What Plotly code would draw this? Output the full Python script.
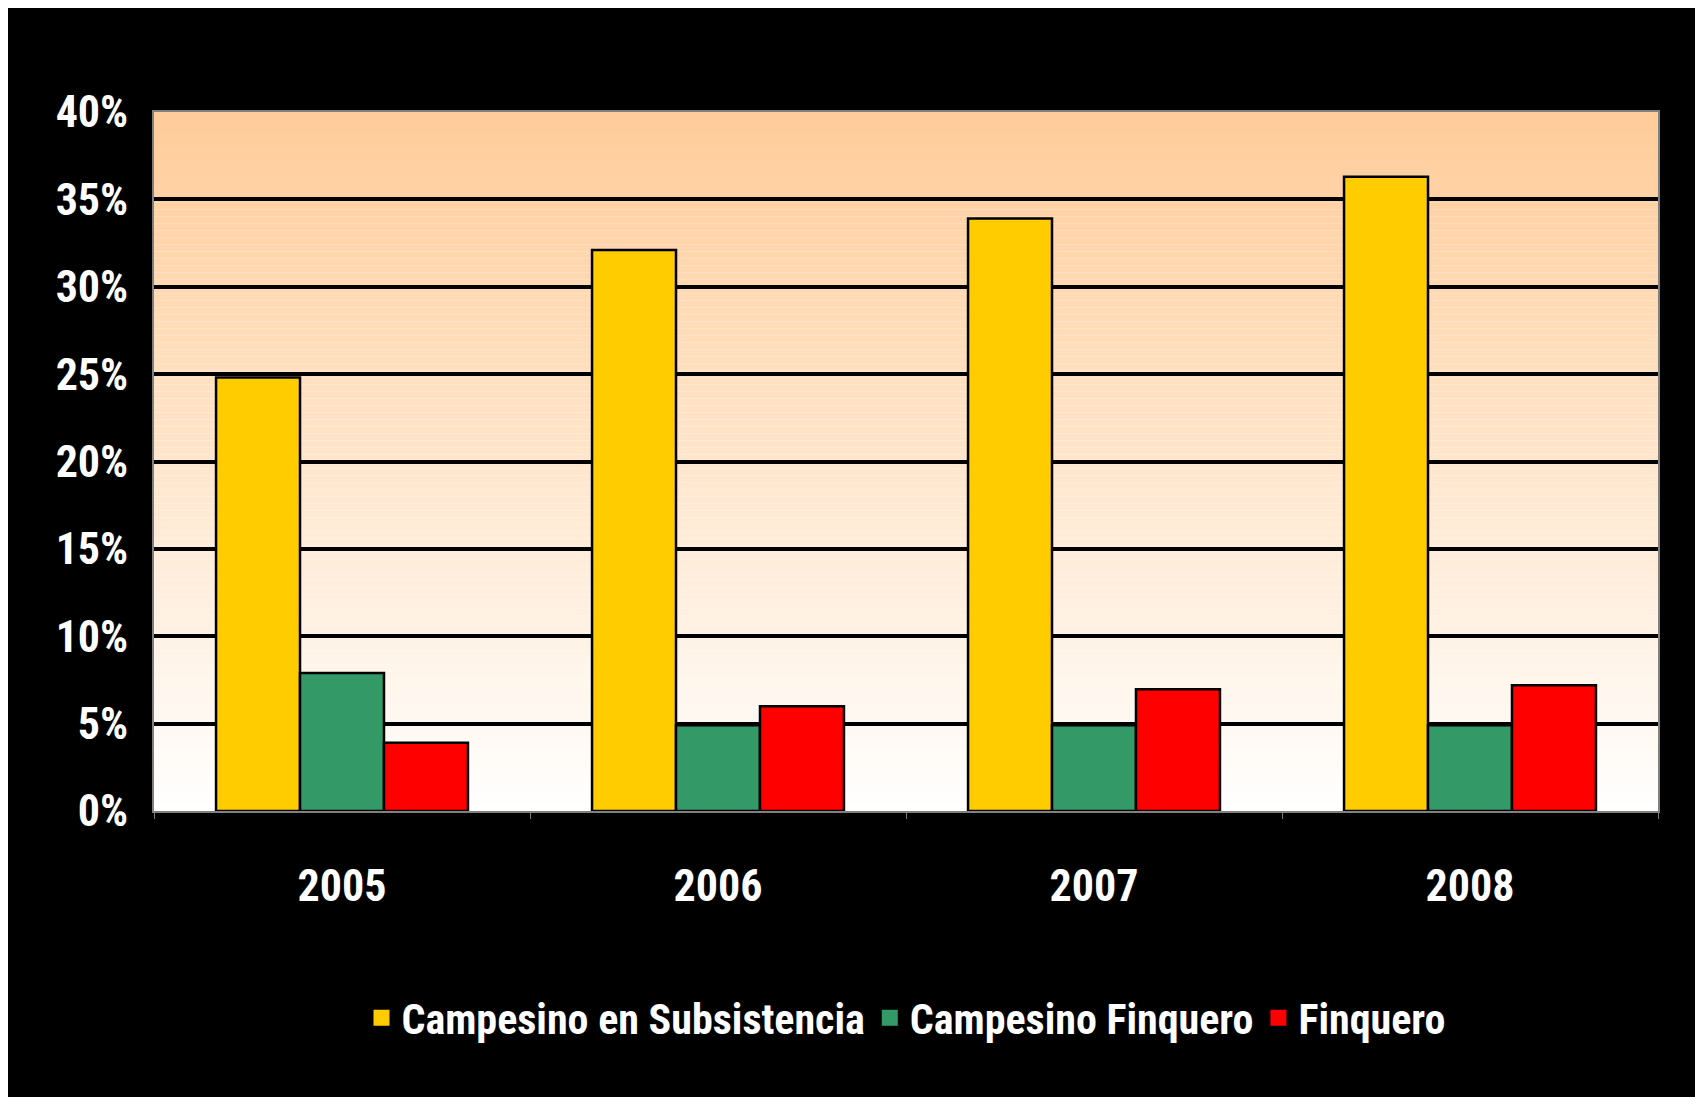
import plotly.graph_objects as go

years = ["2005", "2006", "2007", "2008"]
series_names = ["Campesino en Subsistencia", "Campesino Finquero", "Finquero"]
subsistencia = [24.8, 32.1, 33.9, 36.3]
campesino_finquero = [7.9, 4.9, 4.9, 4.9]
finquero = [3.9, 6.0, 6.96, 7.2]
series_values = [subsistencia, campesino_finquero, finquero]
series_colors = ["#FFCC00", "#339966", "#FF0000"]
y_ticks = [0, 5, 10, 15, 20, 25, 30, 35, 40]
y_tick_text = [f"{v}%" for v in y_ticks]

FONT = "Roboto Condensed, Roboto, sans-serif"

# figure sits at (8, 8) inside the page (default body margin)
W, H = 1692, 1089
ML, MR, MT, MB = 146, 42, 104, 286
PW, PH = W - ML - MR, H - MT - MB

fig = go.Figure()
for name, vals, col in zip(series_names, series_values, series_colors):
    fig.add_trace(go.Bar(
        x=years, y=vals, name=name, showlegend=False,
        marker=dict(color=col, line=dict(color="black", width=2.5)),
    ))
for name, col in zip(series_names, series_colors):
    fig.add_trace(go.Scatter(
        x=[None], y=[None], mode="markers", name=name,
        marker=dict(symbol="square", size=18, color=col),
    ))

# vertical gradient background (white at bottom -> peach at top)
shapes = []
n = 100
top = (255, 204, 153)
for i in range(n):
    t = (i + 0.5) / n
    r = round(255 + (top[0] - 255) * t)
    g = round(255 + (top[1] - 255) * t)
    b = round(255 + (top[2] - 255) * t)
    shapes.append(dict(type="rect", xref="paper", yref="paper",
                       x0=0, x1=1, y0=i / n, y1=(i + 1) / n,
                       fillcolor=f"rgb({r},{g},{b})", line=dict(width=0),
                       layer="below"))

fig.update_layout(
    width=W, height=H,
    margin=dict(l=ML, r=MR, t=MT, b=MB, pad=0),
    paper_bgcolor="black",
    plot_bgcolor="white",
    barmode="group",
    bargap=0.33,
    bargroupgap=0,
    shapes=shapes,
    font=dict(family=FONT, size=44, color="white", weight="bold"),
    legend=dict(orientation="h", x=0.5, xanchor="center",
                y=(811 - 1018) / PH, yanchor="middle",
                font=dict(family=FONT, size=42, color="white", weight="bold"),
                bgcolor="rgba(0,0,0,0)", itemwidth=30, tracegroupgap=0),
    xaxis=dict(
        type="category",
        showgrid=False,
        showline=True, linecolor="#808080", linewidth=2, mirror=True,
        ticks="outside", tickson="boundaries", ticklen=6, tickcolor="#808080",
        tickwidth=1,
        ticklabelstandoff=35,
        tickfont=dict(family=FONT, size=44, color="white", weight="bold"),
    ),
    yaxis=dict(
        range=[0, 40], tickmode="array", tickvals=y_ticks, ticktext=y_tick_text,
        showgrid=True, gridcolor="black", gridwidth=3.5,
        zeroline=False,
        showline=True, linecolor="#808080", linewidth=2, mirror=True,
        ticks="", ticklabelstandoff=15,
        tickfont=dict(family=FONT, size=44, color="white", weight="bold"),
    ),
)

fig.write_html("out.html")
